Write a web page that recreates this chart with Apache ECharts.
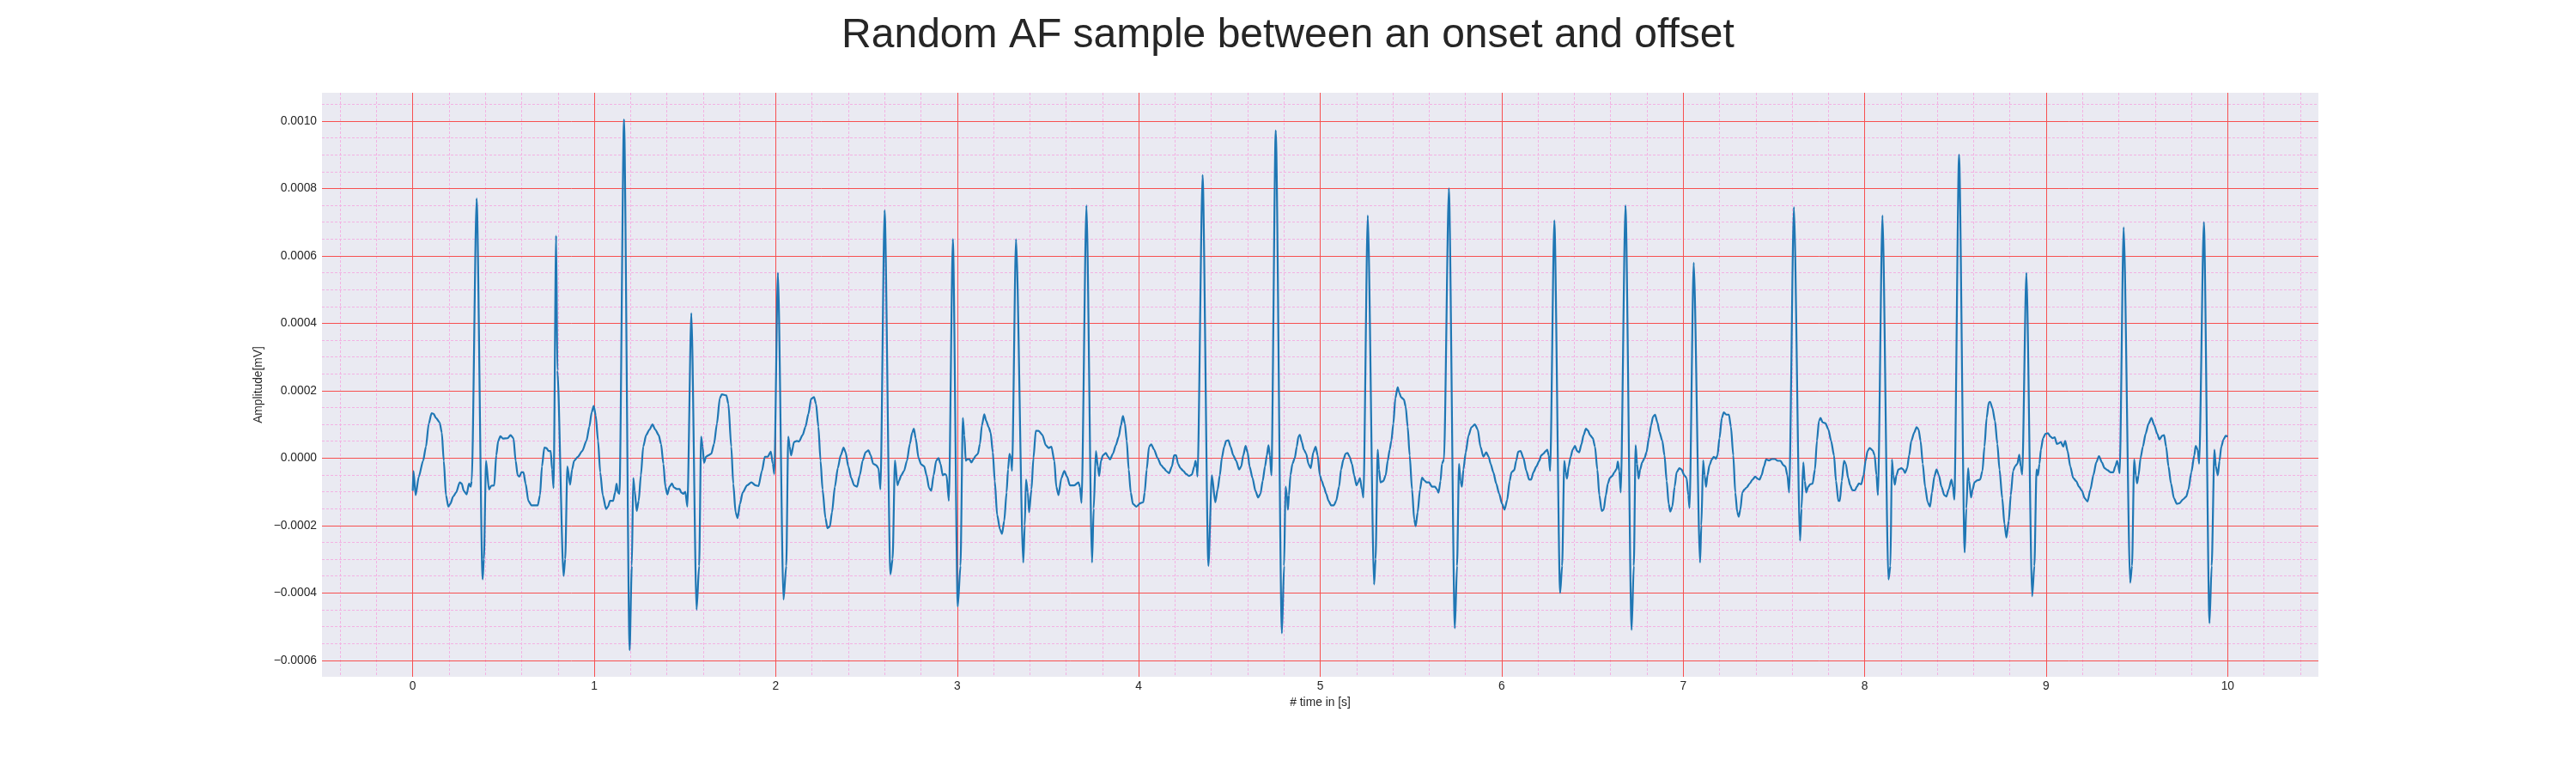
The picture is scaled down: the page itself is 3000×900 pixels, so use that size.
<!DOCTYPE html>
<html>
<head>
<meta charset="utf-8">
<script src="https://cdn.jsdelivr.net/npm/echarts@6/dist/echarts.min.js"></script>
<style>
html,body{margin:0;padding:0;background:#fff;}
#chart{width:3000px;height:900px;}
</style>
</head>
<body>
<div id="chart"></div>
<script>
// ---- data (time in s, amplitude in mV) ----
const time = [
0.000,0.004,0.016,0.033,0.057,0.073,0.088,0.104,0.115,0.128,0.148,0.160,0.171,0.183,0.196,0.207,0.223,0.239,0.259,0.270,0.281,0.297,0.310,0.319,0.325,
0.352,0.385,0.392,
0.404,0.420,0.433,0.449,0.460,0.471,0.483,0.496,0.523,0.539,0.555,0.567,0.578,0.588,0.599,0.610,0.622,0.637,0.654,0.670,0.689,0.701,0.712,0.725,0.736,0.749,0.760,0.768,0.776,
0.790,0.797,0.831,0.840,
0.852,0.867,0.878,0.889,0.910,0.934,0.957,0.973,0.986,0.997,1.008,1.021,1.033,1.047,1.065,1.076,1.087,1.104,1.115,1.123,1.131,1.139,
1.164,1.195,1.207,
1.215,1.223,1.234,1.245,1.257,1.270,1.286,1.305,1.321,1.336,1.355,1.368,1.381,1.392,1.403,1.415,1.428,1.439,1.455,1.471,1.479,1.491,1.502,1.513,
1.535,1.564,1.578,
1.589,1.597,1.605,1.616,1.629,1.645,1.660,1.676,1.692,1.703,1.728,1.739,1.755,1.766,1.779,1.790,1.803,1.818,1.842,1.866,1.889,1.905,1.924,1.940,1.956,1.973,1.984,1.992,
2.012,2.043,2.058,
2.069,2.077,2.085,2.101,2.117,2.128,2.148,2.164,2.180,2.195,2.211,2.222,2.235,2.247,2.258,2.274,2.285,2.298,2.310,2.326,2.342,2.358,2.374,2.385,2.400,2.416,2.432,2.448,2.463,2.479,2.495,2.511,2.523,2.537,2.553,2.566,2.577,
2.600,2.632,2.644,
2.657,2.671,2.679,2.692,2.707,2.723,2.739,2.752,2.761,2.771,2.787,2.802,2.818,2.831,2.845,2.857,2.870,2.884,2.897,2.908,2.920,2.931,2.941,2.954,
2.976,3.003,3.018,
3.031,3.039,3.047,3.054,3.067,3.078,3.089,3.102,3.114,3.125,3.136,3.149,3.160,3.173,3.184,3.196,3.207,3.220,3.236,3.247,3.259,3.272,3.280,3.288,3.296,3.302,
3.324,3.364,3.372,
3.379,3.389,3.396,3.409,3.420,3.433,3.448,3.469,3.488,3.504,3.519,3.535,3.546,3.558,3.574,3.590,3.605,3.621,3.645,3.668,3.676,3.685,
3.712,3.743,3.752,
3.764,3.775,3.782,3.792,3.803,3.819,3.831,3.842,3.858,3.874,3.890,3.902,3.913,3.924,3.934,3.945,3.956,3.968,3.987,4.009,4.025,4.033,4.044,4.057,4.069,4.085,4.104,4.123,4.139,4.151,4.167,4.183,4.195,4.206,4.217,4.230,4.246,4.261,4.277,4.293,4.306,4.313,4.320,4.324,
4.352,4.384,
4.403,4.422,4.435,4.447,4.458,4.471,4.482,4.494,4.506,4.521,4.537,4.553,4.565,4.576,4.589,4.600,4.611,4.627,4.643,4.658,4.671,4.683,4.696,4.706,4.715,4.723,4.731,
4.755,4.789,4.801,
4.809,4.817,4.822,4.828,4.836,4.847,4.860,4.871,4.880,4.888,4.899,4.910,4.923,4.935,4.948,4.962,4.975,4.986,4.998,5.009,5.020,5.033,5.046,5.060,5.076,5.088,5.104,5.115,5.128,5.140,5.151,5.162,5.175,5.187,5.200,5.209,5.219,5.230,5.238,
5.262,5.297,5.305,
5.317,5.324,5.332,5.348,5.361,5.372,5.383,5.392,5.403,5.414,5.427,5.435,5.446,5.461,5.471,5.482,5.493,5.506,5.518,5.526,5.537,5.550,5.561,5.573,5.587,5.600,5.616,5.632,5.644,5.652,5.663,5.671,5.682,
5.709,5.742,5.754,
5.765,5.773,5.781,5.789,5.802,5.817,5.833,5.852,5.868,5.883,5.899,5.915,5.928,5.939,5.954,5.970,5.986,6.002,6.016,6.030,6.044,6.054,6.069,6.080,6.091,6.104,6.120,6.136,6.151,6.162,6.175,6.191,6.207,6.218,6.230,6.243,6.251,6.259,6.267,
6.290,6.322,6.333,
6.345,6.353,6.360,6.369,6.380,6.391,6.404,6.415,6.427,6.440,6.451,6.464,6.475,6.487,6.502,6.514,6.527,6.538,6.551,6.562,6.574,6.585,6.596,6.609,6.621,6.633,6.640,6.648,6.656,
6.682,6.716,6.728,
6.738,6.746,6.754,6.763,6.774,6.787,6.798,6.811,6.823,6.834,6.845,6.858,6.869,6.885,6.897,6.909,6.920,6.929,6.940,6.953,6.964,6.979,6.991,7.006,7.019,7.028,7.035,
7.058,7.093,7.100,
7.110,7.118,7.126,7.134,7.145,7.158,7.169,7.180,7.189,7.200,7.213,7.224,7.237,7.252,7.263,7.276,7.287,7.298,7.306,7.315,7.326,7.338,7.350,7.366,7.382,7.397,7.410,7.421,7.432,7.445,7.457,7.473,7.489,7.505,7.521,7.536,7.552,7.563,7.574,7.584,
7.610,7.644,7.652,
7.662,7.670,7.678,7.689,7.700,7.713,7.726,7.737,7.748,7.757,7.768,7.784,7.800,7.815,7.831,7.842,7.855,7.863,7.874,7.886,7.896,7.909,7.920,7.932,7.946,7.957,7.968,7.981,7.994,8.005,8.016,8.028,8.044,8.055,8.065,8.073,
8.098,8.131,8.142,
8.150,8.158,8.166,8.175,8.186,8.202,8.213,8.222,8.234,8.245,8.257,8.273,8.286,8.297,8.308,8.320,8.333,8.347,8.360,8.371,8.384,8.396,8.409,8.423,8.439,8.450,8.463,8.478,8.486,8.494,
8.520,8.551,8.560,
8.570,8.576,8.586,8.595,8.605,8.620,8.636,8.649,8.660,8.672,8.684,8.691,8.704,8.718,8.731,8.743,8.758,8.770,8.781,8.794,8.805,8.818,8.829,8.841,8.852,8.860,8.868,
8.891,8.923,8.935,
8.947,8.955,8.963,8.971,8.983,8.996,9.010,9.023,9.036,9.047,9.059,9.070,9.081,9.094,9.105,9.118,9.133,9.149,9.165,9.181,9.197,9.212,9.228,9.244,9.260,9.276,9.291,9.307,9.322,9.338,9.354,9.370,9.381,9.391,9.397,9.405,
9.427,9.463,9.473,
9.485,9.494,9.501,9.509,9.520,9.533,9.548,9.564,9.580,9.596,9.612,9.624,9.639,9.650,9.661,9.674,9.688,9.704,9.720,9.735,9.753,9.772,9.784,9.800,9.816,9.824,9.835,9.843,
9.869,9.900,9.912,
9.927,9.935,9.946,9.955,9.965,9.977,9.989,10.000
];
const amplitude = [
-0.97e-4,-0.38e-4,-1.10e-4,-0.56e-4,-0.08e-4,0.34e-4,1.02e-4,1.33e-4,1.31e-4,1.19e-4,1.06e-4,0.76e-4,-0.08e-4,-1.10e-4,-1.44e-4,-1.36e-4,-1.14e-4,-1.02e-4,-0.72e-4,-0.76e-4,-0.97e-4,-1.08e-4,-0.76e-4,-0.85e-4,-0.68e-4,
7.70e-4,-3.60e-4,-3.00e-4,
-0.08e-4,-0.93e-4,-0.82e-4,-0.81e-4,0.08e-4,0.51e-4,0.65e-4,0.58e-4,0.59e-4,0.68e-4,0.59e-4,-0.08e-4,-0.51e-4,-0.55e-4,-0.42e-4,-0.42e-4,-0.76e-4,-1.27e-4,-1.40e-4,-1.40e-4,-1.40e-4,-1.10e-4,-0.25e-4,0.31e-4,0.30e-4,0.21e-4,0.21e-4,-0.34e-4,-0.89e-4,
6.60e-4,2.60e-4,-3.50e-4,-3.00e-4,
-0.25e-4,-0.79e-4,-0.34e-4,-0.08e-4,0.04e-4,0.21e-4,0.51e-4,0.93e-4,1.36e-4,1.55e-4,1.27e-4,0.51e-4,-0.42e-4,-1.10e-4,-1.51e-4,-1.44e-4,-1.27e-4,-1.27e-4,-1.02e-4,-0.76e-4,-1.02e-4,-1.06e-4,
10.05e-4,-5.70e-4,-3.20e-4,
-0.59e-4,-0.97e-4,-1.57e-4,-1.27e-4,-0.51e-4,0.34e-4,0.68e-4,0.85e-4,1.00e-4,0.85e-4,0.68e-4,0.42e-4,-0.17e-4,-0.85e-4,-1.08e-4,-0.85e-4,-0.75e-4,-0.87e-4,-0.92e-4,-0.92e-4,-1.02e-4,-1.06e-4,-1.00e-4,-1.44e-4,
4.30e-4,-4.50e-4,-3.20e-4,
0.64e-4,0.34e-4,-0.14e-4,0.04e-4,0.08e-4,0.13e-4,0.42e-4,1.02e-4,1.78e-4,1.89e-4,1.86e-4,1.61e-4,0.34e-4,-0.76e-4,-1.61e-4,-1.78e-4,-1.36e-4,-1.02e-4,-0.81e-4,-0.72e-4,-0.81e-4,-0.83e-4,-0.38e-4,0.04e-4,0.04e-4,0.19e-4,-0.17e-4,-0.47e-4,
5.50e-4,-4.20e-4,-3.20e-4,
0.64e-4,0.34e-4,0.08e-4,0.48e-4,0.51e-4,0.49e-4,0.68e-4,0.93e-4,1.31e-4,1.76e-4,1.81e-4,1.61e-4,0.93e-4,-0.08e-4,-0.93e-4,-1.78e-4,-2.08e-4,-2.03e-4,-1.61e-4,-0.85e-4,-0.30e-4,0.08e-4,0.31e-4,0.17e-4,-0.25e-4,-0.59e-4,-0.81e-4,-0.85e-4,-0.51e-4,-0.08e-4,0.17e-4,0.23e-4,0.08e-4,-0.17e-4,-0.21e-4,-0.30e-4,-0.93e-4,
7.35e-4,-3.45e-4,-3.00e-4,
-0.07e-4,-0.81e-4,-0.68e-4,-0.51e-4,-0.38e-4,-0.08e-4,0.42e-4,0.76e-4,0.87e-4,0.59e-4,0.00e-4,-0.19e-4,-0.24e-4,-0.51e-4,-0.89e-4,-0.97e-4,-0.51e-4,-0.08e-4,0.00e-4,-0.17e-4,-0.51e-4,-0.47e-4,-0.51e-4,-1.27e-4,
6.50e-4,-4.40e-4,-3.20e-4,
1.19e-4,0.68e-4,-0.08e-4,-0.04e-4,-0.03e-4,-0.13e-4,-0.04e-4,0.07e-4,0.13e-4,0.42e-4,0.97e-4,1.30e-4,1.10e-4,0.92e-4,0.76e-4,0.17e-4,-0.68e-4,-1.69e-4,-2.12e-4,-2.25e-4,-1.86e-4,-1.02e-4,-0.34e-4,0.13e-4,0.00e-4,-0.38e-4,
6.50e-4,-3.10e-4,-2.00e-4,
-0.64e-4,-1.02e-4,-1.61e-4,-0.93e-4,0.00e-4,0.81e-4,0.81e-4,0.69e-4,0.38e-4,0.30e-4,0.34e-4,-0.08e-4,-0.85e-4,-1.10e-4,-0.59e-4,-0.38e-4,-0.55e-4,-0.81e-4,-0.81e-4,-0.72e-4,-0.85e-4,-1.33e-4,
7.50e-4,-3.10e-4,-1.50e-4,
0.21e-4,-0.25e-4,-0.53e-4,-0.08e-4,0.08e-4,0.15e-4,0.04e-4,-0.04e-4,0.13e-4,0.38e-4,0.64e-4,0.97e-4,1.25e-4,1.02e-4,0.51e-4,-0.34e-4,-1.02e-4,-1.36e-4,-1.44e-4,-1.34e-4,-1.31e-4,-1.02e-4,-0.34e-4,0.34e-4,0.41e-4,0.25e-4,0.00e-4,-0.21e-4,-0.30e-4,-0.38e-4,-0.45e-4,-0.25e-4,0.08e-4,0.08e-4,-0.17e-4,-0.30e-4,-0.38e-4,-0.47e-4,-0.53e-4,-0.49e-4,-0.25e-4,-0.08e-4,-0.30e-4,-0.55e-4,
8.40e-4,-3.20e-4,
-0.51e-4,-1.31e-4,-0.93e-4,-0.51e-4,0.00e-4,0.34e-4,0.51e-4,0.53e-4,0.34e-4,0.08e-4,-0.08e-4,-0.34e-4,-0.25e-4,0.08e-4,0.36e-4,0.17e-4,-0.25e-4,-0.59e-4,-0.97e-4,-1.17e-4,-1.06e-4,-0.68e-4,-0.25e-4,0.08e-4,0.38e-4,0.08e-4,-0.51e-4,
9.72e-4,-5.20e-4,-3.20e-4,
-0.85e-4,-1.10e-4,-1.53e-4,-1.10e-4,-0.51e-4,-0.17e-4,0.00e-4,0.34e-4,0.64e-4,0.69e-4,0.47e-4,0.25e-4,0.13e-4,-0.17e-4,-0.30e-4,0.17e-4,0.34e-4,0.08e-4,-0.51e-4,-0.68e-4,-0.85e-4,-1.06e-4,-1.27e-4,-1.40e-4,-1.40e-4,-1.27e-4,-0.85e-4,-0.34e-4,-0.04e-4,0.13e-4,0.15e-4,0.04e-4,-0.17e-4,-0.51e-4,-0.81e-4,-0.72e-4,-0.59e-4,-0.93e-4,-1.17e-4,
7.20e-4,-3.75e-4,-3.00e-4,
0.25e-4,-0.34e-4,-0.72e-4,-0.68e-4,-0.51e-4,-0.08e-4,0.25e-4,0.51e-4,1.02e-4,1.78e-4,2.10e-4,1.95e-4,1.80e-4,1.74e-4,1.53e-4,0.93e-4,0.08e-4,-0.93e-4,-1.82e-4,-2.02e-4,-1.61e-4,-0.93e-4,-0.58e-4,-0.66e-4,-0.72e-4,-0.72e-4,-0.85e-4,-0.85e-4,-0.93e-4,-1.03e-4,-0.68e-4,-0.17e-4,-0.04e-4,
8.00e-4,-5.05e-4,-3.20e-4,
-0.17e-4,-0.68e-4,-0.85e-4,-0.34e-4,0.17e-4,0.66e-4,0.91e-4,1.00e-4,0.85e-4,0.34e-4,0.04e-4,0.17e-4,0.04e-4,-0.17e-4,-0.42e-4,-0.76e-4,-1.06e-4,-1.36e-4,-1.53e-4,-1.25e-4,-0.68e-4,-0.42e-4,-0.36e-4,-0.08e-4,0.19e-4,0.21e-4,0.00e-4,-0.38e-4,-0.64e-4,-0.64e-4,-0.42e-4,-0.25e-4,-0.08e-4,0.08e-4,0.13e-4,0.21e-4,0.25e-4,0.08e-4,-0.38e-4,
7.05e-4,-4.00e-4,-3.20e-4,
-0.08e-4,-0.42e-4,-0.61e-4,-0.25e-4,0.04e-4,0.25e-4,0.36e-4,0.21e-4,0.17e-4,0.42e-4,0.68e-4,0.87e-4,0.82e-4,0.68e-4,0.59e-4,0.34e-4,-0.34e-4,-1.10e-4,-1.57e-4,-1.53e-4,-1.10e-4,-0.76e-4,-0.59e-4,-0.53e-4,-0.42e-4,-0.32e-4,-0.10e-4,-0.38e-4,-1.02e-4,
7.50e-4,-5.10e-4,-3.20e-4,
0.38e-4,-0.17e-4,-0.61e-4,-0.34e-4,-0.13e-4,0.00e-4,0.17e-4,0.59e-4,0.97e-4,1.23e-4,1.29e-4,1.06e-4,0.78e-4,0.51e-4,0.08e-4,-0.68e-4,-1.36e-4,-1.59e-4,-1.44e-4,-0.85e-4,-0.42e-4,-0.30e-4,-0.34e-4,-0.51e-4,-0.59e-4,-1.10e-4,-1.48e-4,
5.80e-4,-3.10e-4,-2.00e-4,
-0.07e-4,-0.51e-4,-0.85e-4,-0.51e-4,-0.21e-4,-0.04e-4,0.04e-4,-0.02e-4,0.08e-4,0.59e-4,1.19e-4,1.36e-4,1.29e-4,1.29e-4,0.93e-4,0.08e-4,-1.02e-4,-1.61e-4,-1.74e-4,-1.53e-4,-1.02e-4,-0.93e-4,-0.87e-4,-0.76e-4,-0.64e-4,-0.55e-4,-0.61e-4,-0.64e-4,-0.51e-4,-0.25e-4,-0.04e-4,-0.07e-4,-0.03e-4,-0.03e-4,-0.08e-4,-0.08e-4,-0.21e-4,-0.25e-4,-0.51e-4,-1.02e-4,
7.45e-4,-2.45e-4,-1.50e-4,
-0.13e-4,-0.68e-4,-1.02e-4,-0.85e-4,-0.78e-4,-0.76e-4,-0.34e-4,0.51e-4,1.10e-4,1.19e-4,1.06e-4,1.03e-4,0.85e-4,0.51e-4,0.08e-4,-0.68e-4,-1.27e-4,-1.27e-4,-0.68e-4,-0.08e-4,-0.17e-4,-0.59e-4,-0.81e-4,-0.95e-4,-0.96e-4,-0.85e-4,-0.75e-4,-0.78e-4,-0.51e-4,-0.08e-4,0.21e-4,0.30e-4,0.23e-4,0.08e-4,-0.51e-4,-1.10e-4,
7.20e-4,-3.60e-4,-3.20e-4,
-0.04e-4,-0.51e-4,-0.79e-4,-0.51e-4,-0.34e-4,-0.30e-4,-0.34e-4,-0.44e-4,-0.30e-4,0.08e-4,0.51e-4,0.76e-4,0.92e-4,0.85e-4,0.51e-4,-0.17e-4,-0.85e-4,-1.31e-4,-1.44e-4,-1.02e-4,-0.55e-4,-0.34e-4,-0.51e-4,-0.85e-4,-1.10e-4,-1.14e-4,-0.93e-4,-0.64e-4,-0.85e-4,-1.23e-4,
9.00e-4,-2.80e-4,-1.50e-4,
-0.30e-4,-0.68e-4,-1.17e-4,-0.93e-4,-0.72e-4,-0.66e-4,-0.64e-4,-0.38e-4,0.34e-4,1.19e-4,1.65e-4,1.67e-4,1.48e-4,1.10e-4,0.42e-4,-0.34e-4,-1.19e-4,-1.95e-4,-2.36e-4,-1.86e-4,-1.10e-4,-0.38e-4,-0.24e-4,-0.17e-4,0.10e-4,-0.25e-4,-0.49e-4,
5.50e-4,-4.10e-4,-3.20e-4,
-0.34e-4,-0.51e-4,-0.17e-4,0.25e-4,0.59e-4,0.72e-4,0.74e-4,0.64e-4,0.59e-4,0.62e-4,0.42e-4,0.44e-4,0.48e-4,0.34e-4,0.51e-4,0.21e-4,-0.25e-4,-0.59e-4,-0.68e-4,-0.85e-4,-0.97e-4,-1.19e-4,-1.29e-4,-0.93e-4,-0.51e-4,-0.13e-4,0.06e-4,-0.13e-4,-0.30e-4,-0.36e-4,-0.42e-4,-0.42e-4,-0.25e-4,-0.08e-4,-0.21e-4,-0.45e-4,
6.85e-4,-3.70e-4,-3.20e-4,
-0.04e-4,-0.51e-4,-0.75e-4,-0.51e-4,0.00e-4,0.34e-4,0.72e-4,1.02e-4,1.19e-4,0.97e-4,0.72e-4,0.55e-4,0.66e-4,0.68e-4,0.34e-4,-0.25e-4,-0.76e-4,-1.19e-4,-1.36e-4,-1.34e-4,-1.23e-4,-1.14e-4,-0.93e-4,-0.42e-4,0.08e-4,0.36e-4,0.25e-4,-0.17e-4,
7.00e-4,-4.90e-4,-3.20e-4,
0.25e-4,-0.25e-4,-0.51e-4,-0.08e-4,0.34e-4,0.55e-4,0.66e-4,0.64e-4
];
const xTicks = [0,1,2,3,4,5,6,7,8,9,10];
const yTicks = [-0.0006,-0.0004,-0.0002,0,0.0002,0.0004,0.0006,0.0008,0.0010];
const xRange = [-0.5, 10.5];
const yRange = [-0.000649, 0.001084];

// minor grid positions: 5 per major step on x, 4 per major step on y
const xMinor = [];
for (let i = -3; i <= 53; i++) { const v = +(i * 0.2).toFixed(2); if (v >= xRange[0] && v <= xRange[1] && i % 5 !== 0) xMinor.push(v); }
const yMinor = [];
for (let i = -13; i <= 22; i++) { const v = +(i * 0.00005).toFixed(6); if (v >= yRange[0] && v <= yRange[1] && i % 4 !== 0) yMinor.push(v); }

const seriesData = time.map((t, i) => [t, amplitude[i]]);

const FONT = 'Liberation Sans, Arial, sans-serif';
const TXT = '#262626';
const chart = echarts.init(document.getElementById('chart'), null, {renderer: 'canvas'});
chart.setOption({
  animation: false,
  backgroundColor: '#ffffff',
  title: {
    text: 'Random AF sample between an onset and offset',
    left: 'center', top: 13,
    textStyle: {fontFamily: FONT, fontSize: 48, fontWeight: 'normal', color: TXT}
  },
  grid: {left: 375, right: 300, top: 108, bottom: 112, show: true, backgroundColor: '#EAEAF2', borderWidth: 0, z: 0},
  xAxis: [{
    type: 'value', min: xRange[0], max: xRange[1], z: 2,
    name: '# time in [s]', nameLocation: 'middle', nameGap: 20,
    nameTextStyle: {fontFamily: FONT, fontSize: 13.8, color: TXT},
    axisLine: {show: false}, axisTick: {show: false, customValues: xTicks},
    axisLabel: {customValues: xTicks, margin: 4, fontFamily: FONT, fontSize: 13.8, color: TXT, formatter: v => String(v)},
    splitLine: {show: true, lineStyle: {color: '#f75050', width: 1}}
  }, {
    type: 'value', min: xRange[0], max: xRange[1], z: 1, position: 'top',
    axisLine: {show: false}, axisTick: {show: false, customValues: xMinor},
    axisLabel: {show: false, customValues: xMinor},
    splitLine: {show: true, lineStyle: {color: '#f3b2e3', width: 1, type: [3, 2]}}
  }],
  yAxis: [{
    type: 'value', min: yRange[0], max: yRange[1], z: 2,
    name: 'Amplitude[mV]', nameLocation: 'middle', nameGap: 57, nameRotate: 90,
    nameTextStyle: {fontFamily: FONT, fontSize: 13.8, color: TXT},
    axisLine: {show: false}, axisTick: {show: false, customValues: yTicks},
    axisLabel: {customValues: yTicks, margin: 6, fontFamily: FONT, fontSize: 13.8, color: TXT,
      formatter: v => (Math.abs(v) < 1e-12 ? 0 : v).toFixed(4).replace('-', '\u2212')},
    splitLine: {show: true, lineStyle: {color: '#f75050', width: 1}}
  }, {
    type: 'value', min: yRange[0], max: yRange[1], z: 1, position: 'right',
    axisLine: {show: false}, axisTick: {show: false, customValues: yMinor},
    axisLabel: {show: false, customValues: yMinor},
    splitLine: {show: true, lineStyle: {color: '#f3b2e3', width: 1, type: [3, 2]}}
  }],
  series: [{
    type: 'line', xAxisIndex: 0, yAxisIndex: 0, z: 3,
    data: seriesData, showSymbol: false, symbol: 'none',
    smooth: 0.25, smoothMonotone: 'x',
    lineStyle: {color: '#1f77b4', width: 2.2}
  }]
});
</script>
</body>
</html>
